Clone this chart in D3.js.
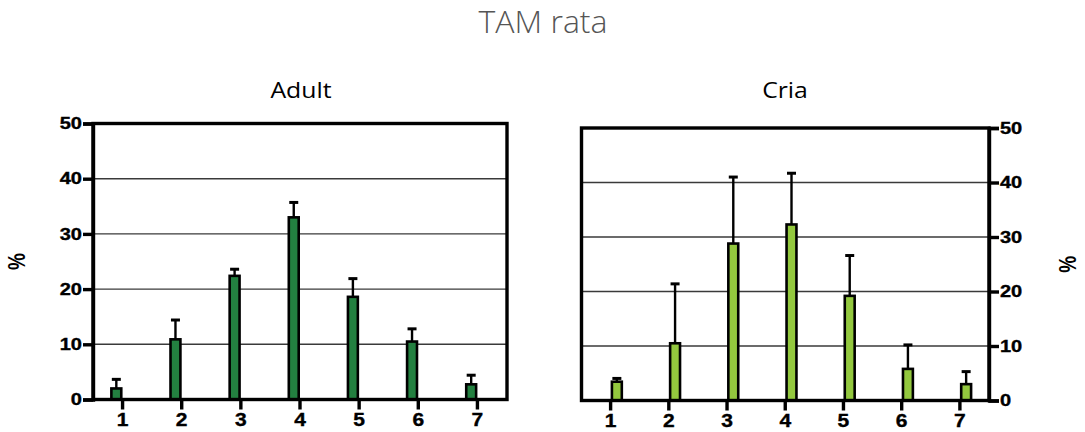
<!DOCTYPE html>
<html><head><meta charset="utf-8">
<script src="https://cdn.jsdelivr.net/npm/d3@7"></script>
<style>body{margin:0;background:#fff}svg{display:block}</style>
</head><body>
<svg id="c" width="1085" height="432"></svg>
<script>
const categories = ["1","2","3","4","5","6","7"];
const adultValues = [2.0, 10.9, 22.4, 33.0, 18.6, 10.5, 2.75];
const adultErrors = [1.65, 3.5, 1.2, 2.7, 3.3, 2.3, 1.65];
const criaValues = [3.45, 10.5, 28.8, 32.3, 19.2, 5.8, 3.0];
const criaErrors = [0.6, 10.9, 12.2, 9.4, 7.4, 4.4, 2.3];
const yTicks = [0, 10, 20, 30, 40, 50];

const svg = d3.select("#c");
const boldFont = "'Liberation Sans', Arial, sans-serif";
const SX = 1.25;

svg.append("text").attr("x", 543).attr("y", 33)
  .attr("text-anchor", "middle")
  .style("font-family", "'Open Sans', sans-serif").style("font-weight", 300)
  .style("font-size", "32px").attr("fill", "#555").text("TAM rata");

function panel(opt) {
  const x = d3.scaleBand().domain(categories).range(opt.xr).padding(0);
  const y = d3.scaleLinear().domain([0, 50]).range(opt.yr);
  const g = svg.append("g");
  const [x0, x1] = opt.xr;
  g.selectAll("line.grid").data(yTicks.filter(t => t > 0 && t < 50)).join("line")
    .attr("x1", x0).attr("x2", x1).attr("y1", d => y(d)).attr("y2", d => y(d))
    .attr("stroke", "#3a3a3a").attr("stroke-width", 1.4);
  const bw = 12.5;
  const cx = d => x(d) + x.bandwidth() / 2;
  const bx = d => opt.side === "left" ? cx(d) - bw : cx(d);
  const data = categories.map((c, i) => ({c, v: opt.values[i], e: opt.errors[i]}));
  g.selectAll("line.err").data(data).join("line")
    .attr("x1", d => bx(d.c) + bw / 2).attr("x2", d => bx(d.c) + bw / 2)
    .attr("y1", d => y(d.v)).attr("y2", d => y(d.v + d.e))
    .attr("stroke", "#000").attr("stroke-width", 2.4);
  g.selectAll("line.cap").data(data).join("line")
    .attr("x1", d => bx(d.c) + bw / 2 - 4.5).attr("x2", d => bx(d.c) + bw / 2 + 4.5)
    .attr("y1", d => y(d.v + d.e)).attr("y2", d => y(d.v + d.e))
    .attr("stroke", "#000").attr("stroke-width", 3);
  g.selectAll("rect.bar").data(data).join("rect")
    .attr("x", d => bx(d.c) + 1.3).attr("width", bw - 2.6)
    .attr("y", d => y(d.v)).attr("height", d => y(0) - y(d.v))
    .attr("fill", opt.color).attr("stroke", "#000").attr("stroke-width", 2.6);
  g.append("rect").attr("x", x0).attr("y", y(50)).attr("width", x1 - x0).attr("height", y(0) - y(50))
    .attr("fill", "none").attr("stroke", "#000").attr("stroke-width", 3.4);
  const left = opt.side === "left";
  const yAxis = (left ? d3.axisLeft(y) : d3.axisRight(y)).tickValues(yTicks).tickSize(10);
  const ya = g.append("g").attr("transform", `translate(${left ? x0 : x1},0)`).call(yAxis);
  ya.select(".domain").attr("stroke-width", 3.4);
  ya.selectAll(".tick line").attr("stroke-width", 3.4);
  ya.selectAll("text")
    .attr("transform", `translate(${left ? -11 : 11},0) scale(${SX},1)`).attr("x", 0)
    .style("font-family", boldFont).style("font-weight", "bold").style("font-size", "16px")
    .attr("fill", "#000").attr("stroke", "#000").attr("stroke-width", 0.35);
  const xa = g.append("g").attr("transform", `translate(0,${y(0)})`)
    .call(d3.axisBottom(x).tickSize(10).tickPadding(4));
  xa.select(".domain").remove();
  xa.selectAll(".tick line").attr("stroke-width", 3.4);
  xa.selectAll("text").attr("transform", `scale(1.2,1)`)
    .style("font-family", boldFont).style("font-weight", "bold").style("font-size", "17.5px")
    .attr("fill", "#000").attr("stroke", "#000").attr("stroke-width", 0.35);
  svg.append("text").attr("transform", `translate(${opt.titleX},98) scale(1.18,1)`).attr("text-anchor", "middle")
    .style("font-family", "'Open Sans', sans-serif").style("font-size", "21px")
    .attr("fill", "#000").text(opt.title);
  svg.append("text").attr("transform", `translate(${opt.labelX},${(y(0) + y(50)) / 2}) scale(1.25,1) rotate(-90)`)
    .attr("text-anchor", "middle")
    .style("font-family", boldFont).style("font-weight", "bold")
    .style("font-size", "19px").attr("fill", "#000").text("%");
}

panel({xr: [93, 507], yr: [399.5, 123.5], values: adultValues, errors: adultErrors,
  color: "#238040", side: "left", title: "Adult", titleX: 301, labelX: 25});
panel({xr: [581.5, 989], yr: [400.5, 128], values: criaValues, errors: criaErrors,
  color: "#93c83e", side: "right", title: "Cria", titleX: 785, labelX: 1076});
</script>
</body></html>
